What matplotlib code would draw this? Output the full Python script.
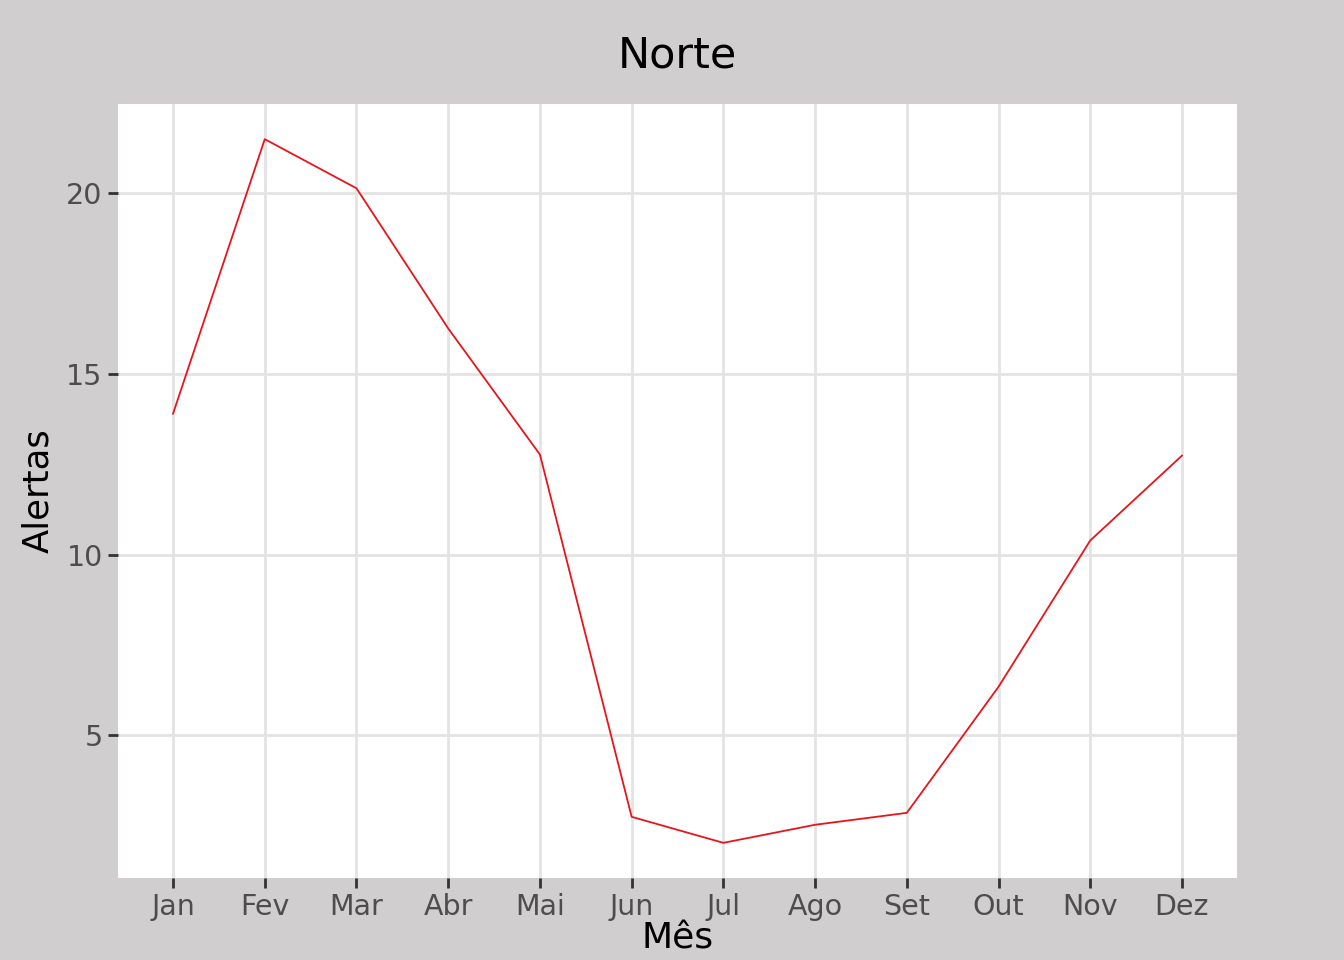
import matplotlib
matplotlib.use('Agg')
import matplotlib.pyplot as plt

# alertas medios por mes, regiao Norte
meses = ['Jan', 'Fev', 'Mar', 'Abr', 'Mai', 'Jun', 'Jul', 'Ago', 'Set', 'Out', 'Nov', 'Dez']
alertas = [13.9, 21.5, 20.14, 16.26, 12.77, 2.74, 2.02, 2.52, 2.85, 6.34, 10.39, 12.74]

bg = '#d0cecf'
fig = plt.figure(figsize=(13.44, 9.6), dpi=100, facecolor=bg)
ax = fig.add_axes([0.0878, 0.0854, 0.8326, 0.8063])
ax.set_facecolor('white')

x = list(range(1, len(meses) + 1))
ax.plot(x, alertas, color='#e8141c', linewidth=1.3, zorder=3)

ax.set_xlim(1 - 0.6, len(meses) + 0.6)
lo, hi = min(alertas), max(alertas)
pad = (hi - lo) * 0.05
ax.set_ylim(lo - pad, hi + pad)

ax.set_xticks(x)
ax.set_xticklabels(meses)
ax.set_yticks([5, 10, 15, 20])

ax.grid(True, color='#e3e3e3', linewidth=2)
ax.set_axisbelow(True)
for s in ax.spines.values():
    s.set_visible(False)
ax.tick_params(axis='both', colors='#333333', length=7, width=2,
               labelsize=20.5, labelcolor='#4d4d4d', pad=4)

ax.set_xlabel('Mês', fontsize=26, color='black', labelpad=0)
ax.set_ylabel('Alertas', fontsize=25.5, color='black', labelpad=8)
ax.set_title('Norte', fontsize=31, color='black', pad=26)

fig.savefig('out.png', dpi=100, facecolor=bg)
